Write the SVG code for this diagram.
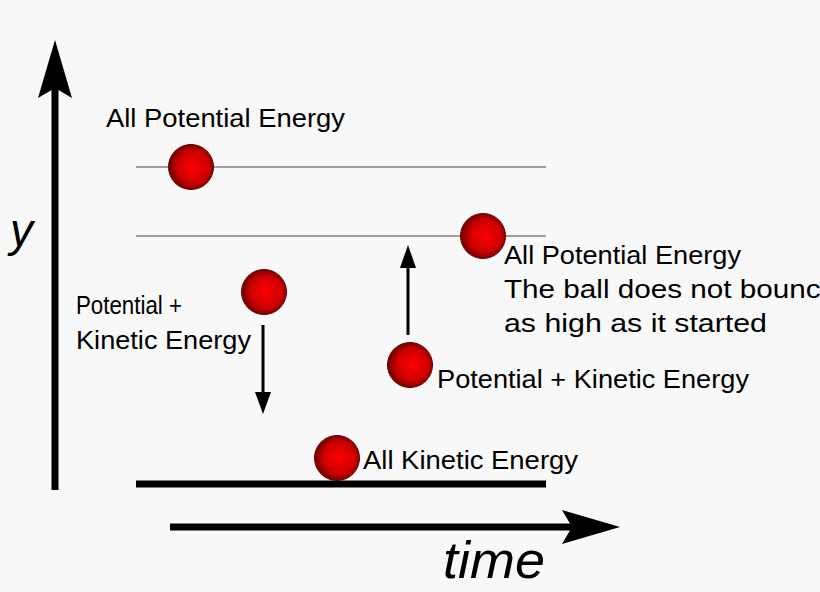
<svg xmlns="http://www.w3.org/2000/svg" width="820" height="592" viewBox="0 0 820 592">
<style>
text{font-family:"Liberation Sans",Arial,sans-serif;fill:#000}
.l{font-size:25px}
.thin{stroke:#808080;stroke-width:1.5}
.ball{fill:url(#g);stroke:#5a0000;stroke-width:1}
</style>
<defs>
<radialGradient id="g" cx="0.55" cy="0.5" r="0.5">
<stop offset="0" stop-color="#ff0000"/>
<stop offset="0.7" stop-color="#cc0000"/>
<stop offset="1" stop-color="#800000"/>
</radialGradient>
</defs>
<rect width="820" height="592" fill="#f8f8f8"/>
<g id="connectors">
<line x1="55" y1="490" x2="55" y2="85" stroke="#000" stroke-width="7"/>
<polygon points="55,40 38,98 55,88 72,98" fill="#000"/>
<line x1="170" y1="527" x2="575" y2="527" stroke="#000" stroke-width="7"/>
<polygon points="620,527 562,510 572,527 562,544" fill="#000"/>
<line x1="136" y1="167" x2="546" y2="167" class="thin"/>
<line x1="136" y1="236" x2="546" y2="236" class="thin"/>
<line x1="136" y1="484" x2="546" y2="484" stroke="#000" stroke-width="7"/>
<line x1="263" y1="325" x2="263" y2="395" stroke="#000" stroke-width="3"/>
<polygon points="263,414 255,392 271,392" fill="#000"/>
<line x1="408" y1="335" x2="408" y2="265" stroke="#000" stroke-width="3"/>
<polygon points="408,245 400,268 416,268" fill="#000"/>
</g>
<g id="axis-labels">
<text x="10" y="246" font-size="46" font-style="italic">y</text>
<text x="443" y="578" font-size="52" font-style="italic" textLength="102" lengthAdjust="spacingAndGlyphs">time</text>
</g>
<g id="ball1"><circle cx="191" cy="167" r="22.5" class="ball"/><text x="106" y="127" class="l" textLength="239" lengthAdjust="spacingAndGlyphs">All Potential Energy</text></g>
<g id="ball2"><circle cx="483" cy="236" r="22.5" class="ball"/><text class="l"><tspan x="504" y="264" textLength="237" lengthAdjust="spacingAndGlyphs">All Potential Energy</tspan><tspan x="504" y="298" textLength="333" lengthAdjust="spacingAndGlyphs">The ball does not bounce</tspan><tspan x="504" y="332" textLength="263" lengthAdjust="spacingAndGlyphs">as high as it started</tspan></text></g>
<g id="ball3"><circle cx="264" cy="292" r="22.5" class="ball"/><text class="l"><tspan x="76" y="314" textLength="106" lengthAdjust="spacingAndGlyphs">Potential +</tspan><tspan x="76" y="349" textLength="175" lengthAdjust="spacingAndGlyphs">Kinetic Energy</tspan></text></g>
<g id="ball4"><circle cx="410" cy="365" r="22.5" class="ball"/><text x="437" y="388" class="l" textLength="312" lengthAdjust="spacingAndGlyphs">Potential + Kinetic Energy</text></g>
<g id="ball5"><circle cx="337" cy="458" r="22.5" class="ball"/><text x="363" y="469" class="l" textLength="215" lengthAdjust="spacingAndGlyphs">All Kinetic Energy</text></g>
</svg>
